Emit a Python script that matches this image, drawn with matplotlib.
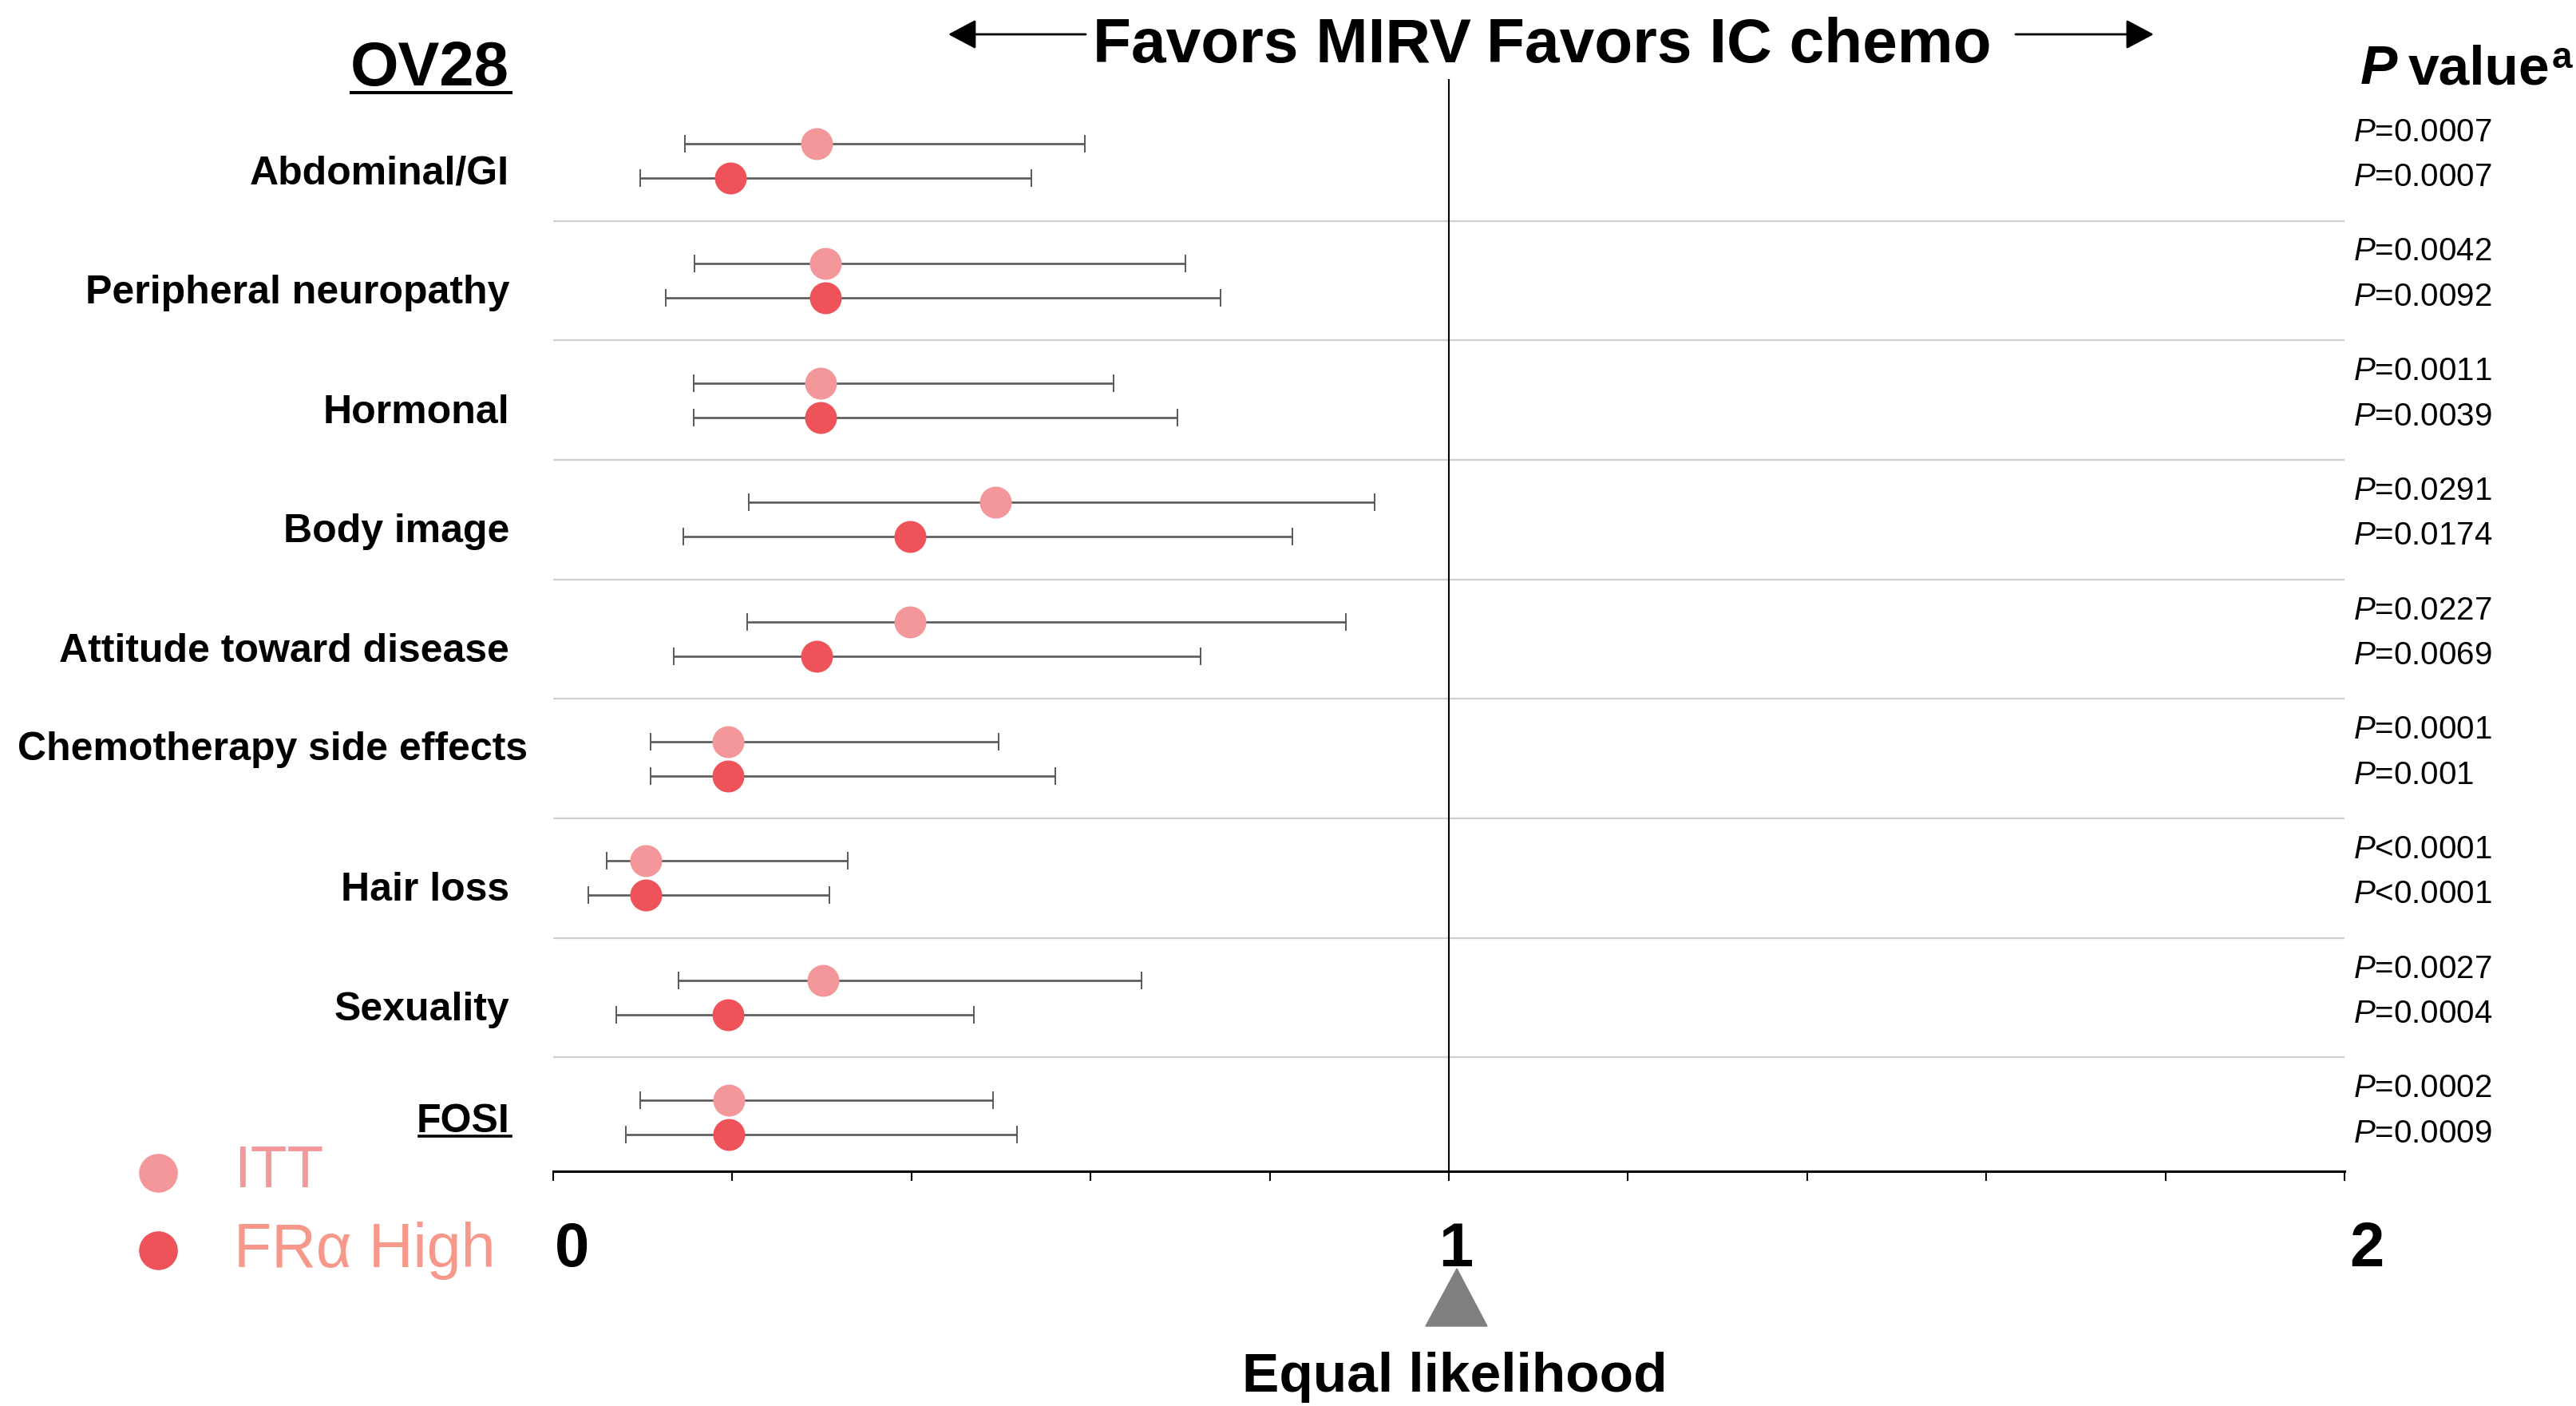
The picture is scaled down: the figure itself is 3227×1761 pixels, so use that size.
import numpy as np
import matplotlib as mpl
mpl.use('Agg')
import matplotlib.pyplot as plt
from matplotlib.lines import Line2D
from matplotlib.patches import Polygon
from matplotlib.transforms import blended_transform_factory, ScaledTranslation

plt.rcParams['font.family'] = ['Liberation Sans', 'DejaVu Sans']
plt.rcParams['mathtext.fontset'] = 'custom'
plt.rcParams['mathtext.rm'] = 'Liberation Sans'
plt.rcParams['mathtext.it'] = 'Liberation Sans:italic'

# OV28 domains, odds ratio with 95% CI for ITT and FRa-high populations
domains = ['Abdominal/GI', 'Peripheral neuropathy', 'Hormonal', 'Body image',
           'Attitude toward disease', 'Chemotherapy side effects', 'Hair loss',
           'Sexuality', 'FOSI']

itt_est = [0.294, 0.304, 0.299, 0.494, 0.398, 0.195, 0.103, 0.301, 0.196]
itt_lo = [0.147, 0.158, 0.157, 0.218, 0.217, 0.109, 0.060, 0.140, 0.097]
itt_hi = [0.594, 0.706, 0.626, 0.917, 0.885, 0.497, 0.329, 0.657, 0.491]

fr_est = [0.198, 0.304, 0.299, 0.398, 0.294, 0.195, 0.103, 0.195, 0.196]
fr_lo = [0.097, 0.126, 0.157, 0.145, 0.135, 0.109, 0.039, 0.070, 0.081]
fr_hi = [0.534, 0.745, 0.697, 0.825, 0.723, 0.561, 0.308, 0.470, 0.518]

itt_p = ['=0.0007', '=0.0042', '=0.0011', '=0.0291', '=0.0227', '=0.0001',
         '<0.0001', '=0.0027', '=0.0002']
fr_p = ['=0.0007', '=0.0092', '=0.0039', '=0.0174', '=0.0069', '=0.001',
        '<0.0001', '=0.0004', '=0.0009']

xtick_vals = [0, 1, 2]
xtick_labels = ['0', '1', '2']

itt_col = '#f4979b'
fr_col = '#ef535a'
bar_col = '#595959'

W, H = 3227, 1761


def fx(px):
    return px / W


def fy(py):
    return 1 - py / H


fig = plt.figure(figsize=(W / 100, H / 100), dpi=100)
ax = fig.add_axes([fx(693), fy(1467), fx(2937) - fx(693), fy(99) - fy(1467)])

rows = np.arange(len(domains))
y_itt = rows - 0.144
y_fr = rows + 0.144

itt_est = np.array(itt_est)
fr_est = np.array(fr_est)

ax.hlines(rows[:-1] + 0.5, 0, 2, color='#d0d0d0', lw=1.6, zorder=1)
ax.axvline(1, color='black', lw=1.5, zorder=1)

for est, lo, hi, yy, col in [(itt_est, itt_lo, itt_hi, y_itt, itt_col),
                             (fr_est, fr_lo, fr_hi, y_fr, fr_col)]:
    err = [est - np.array(lo), np.array(hi) - est]
    ax.errorbar(est, yy, xerr=err, fmt='none', ecolor=bar_col, elinewidth=1.9,
                capsize=8, capthick=1.4, zorder=2)
    ax.plot(est, yy, 'o', ms=28.8, color=col, mec='none', zorder=3)

ax.set_xlim(0, 2)
ax.set_ylim(8.452, -0.686)
ax.set_yticks([])
for s in ['left', 'top', 'right']:
    ax.spines[s].set_visible(False)
ax.spines['bottom'].set_linewidth(2.2)
ax.set_xticks(np.arange(0, 2.001, 0.2))
ax.set_xticklabels([])
ax.tick_params(axis='x', direction='out', length=8.6, width=1.5, color='black')

# axis numbers, nudged right
nudges = [24, 9, 28]
for v, s, dx in zip(xtick_vals, xtick_labels, nudges):
    tr = blended_transform_factory(ax.transData, fig.transFigure) + \
        ScaledTranslation(dx / 100, 0, fig.dpi_scale_trans)
    ax.text(v, fy(1586), s, transform=tr, ha='center', va='baseline',
            fontsize=56, fontweight='bold')

# domain labels
tr_row = blended_transform_factory(fig.transFigure, ax.transData)
for i, name in enumerate(domains):
    x, off = 638, 0.19
    if name == 'Chemotherapy side effects':
        x, off = 661, 0.015
    elif name == 'FOSI':
        off = 0.125
    ax.text(fx(x), i + off, name, transform=tr_row, ha='right', va='baseline',
            fontsize=36, fontweight='bold')
fig.add_artist(Line2D([fx(525), fx(640)], [fy(1423), fy(1423)], color='black', lw=2.6))

# p values
for i in rows:
    ax.text(fx(2948), i - 0.167, '$P$' + itt_p[i], transform=tr_row,
            ha='left', va='baseline', fontsize=29)
    ax.text(fx(2948), i + 0.21, '$P$' + fr_p[i], transform=tr_row,
            ha='left', va='baseline', fontsize=29)

# headers
fig.text(fx(638), fy(107), 'OV28', ha='right', va='baseline', fontsize=56,
         fontweight='bold')
fig.add_artist(Line2D([fx(440), fx(640)], [fy(116), fy(116)], color='black', lw=2.9))

fig.text(fx(1843), fy(78), 'Favors MIRV', ha='right', va='baseline', fontsize=56.5,
         fontweight='bold')
fig.text(fx(1862), fy(78), 'Favors IC chemo', ha='left', va='baseline', fontsize=56.5,
         fontweight='bold')
arrow_kw = dict(arrowstyle='-|>,head_length=21.6,head_width=11.5', lw=2,
                color='black', mutation_scale=1, shrinkA=0, shrinkB=0)
ax.annotate('', xy=(fx(1188), fy(43)), xytext=(fx(1360), fy(43)),
            xycoords='figure fraction', textcoords='figure fraction',
            arrowprops=arrow_kw, annotation_clip=False)
ax.annotate('', xy=(fx(2698), fy(43)), xytext=(fx(2525), fy(43)),
            xycoords='figure fraction', textcoords='figure fraction',
            arrowprops=arrow_kw, annotation_clip=False)

fig.text(fx(2957), fy(105), 'P', ha='left', va='baseline', fontsize=50,
         fontweight='bold', fontstyle='italic')
fig.text(fx(3017), fy(105), 'value', ha='left', va='baseline', fontsize=50,
         fontweight='bold')
fig.text(fx(3197), fy(85), 'a', ha='left', va='baseline', fontsize=33,
         fontweight='bold')

# equal likelihood marker
fig.add_artist(Polygon([(fx(1825), fy(1589)), (fx(1786), fy(1661)), (fx(1863), fy(1661))],
                       closed=True, color='#7f7f7f', transform=fig.transFigure))
fig.text(fx(1822), fy(1743), 'Equal likelihood', ha='center', va='baseline',
         fontsize=50, fontweight='bold')

# legend
fig.add_artist(Line2D([fx(198)], [fy(1469)], marker='o', ms=35, color=itt_col, mec='none'))
fig.add_artist(Line2D([fx(198)], [fy(1566)], marker='o', ms=35, color=fr_col, mec='none'))
fig.text(fx(293), fy(1487), 'ITT', ha='left', va='baseline', fontsize=54, color='#f4989c')
fig.text(fx(293), fy(1587), 'FRα High', ha='left', va='baseline', fontsize=55.5,
         color='#f7988a')

fig.savefig('out.png', dpi=100)
